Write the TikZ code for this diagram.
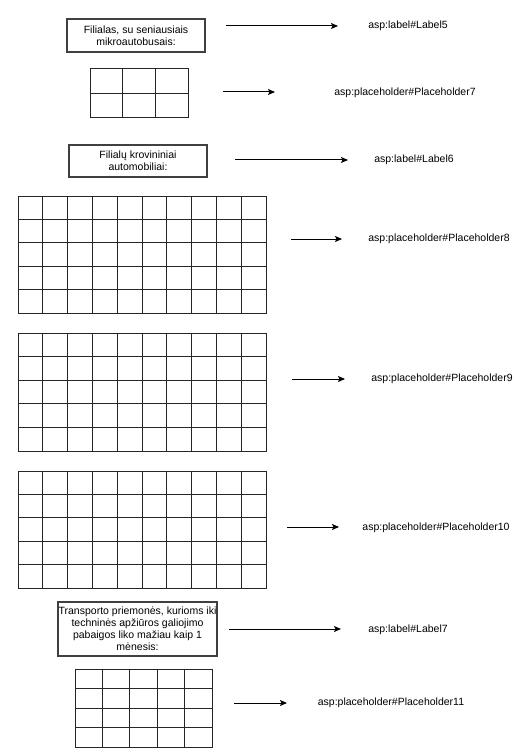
\documentclass[tikz,border=0pt]{standalone}
\usepackage{fontspec}
\setmainfont{Liberation Sans}
\usetikzlibrary{arrows.meta}
\newcommand\tblgrid[6]{%
  \draw[gridline] (#1,#2) rectangle (#3,#4);
  \pgfmathsetmacro\cw{(#3-#1)/#5}
  \pgfmathsetmacro\rh{(#4-#2)/#6}
  \pgfmathtruncatemacro\nc{#5-1}
  \pgfmathtruncatemacro\nr{#6-1}
  \foreach \i in {1,...,\nc} {\draw[gridline] ({#1+\i*\cw},#2) -- ({#1+\i*\cw},#4);}
  \foreach \j in {1,...,\nr} {\draw[gridline] (#1,{#2+\j*\rh}) -- (#3,{#2+\j*\rh});}
}
\tikzset{
  txt/.style={font=\fontsize{10.5}{12}\selectfont, inner sep=0pt, align=center},
  titlebox/.style={draw=black!75, line width=1.2pt, font=\fontsize{10.5}{12}\selectfont, align=center, inner sep=0pt},
  gridline/.style={draw=black!85, line width=1pt},
  conn/.style={line width=1pt, -{Stealth[length=7pt,width=6pt,inset=1.5pt]}},
}
\begin{document}
\begin{tikzpicture}[x=1pt,y=-1pt]
\useasboundingbox (0,0) rectangle (529,754);
% title boxes
\node[titlebox, minimum width=138pt, minimum height=33pt] (b1) at (136,35.5) {Filialas, su seniausiais\\mikroautobusais:};
\node[titlebox, minimum width=138pt, minimum height=32pt] (b2) at (138,161) {Filialų krovininiai\\automobiliai:};
\node[titlebox, minimum width=159pt, minimum height=54pt] (b3) at (137.5,629) {Transporto priemonės, kurioms iki\\techninės apžiūros galiojimo\\pabaigos liko mažiau kaip 1\\mėnesis:};
% grids
\tblgrid{90}{69}{188}{118}{3}{2}
\tblgrid{18}{196}{266}{313}{10}{5}
\tblgrid{18}{333}{266}{451}{10}{5}
\tblgrid{18}{471}{266}{588}{10}{5}
\tblgrid{75}{669}{212}{747}{5}{4}
% labels
\node[txt] (l1) at (408,26) {asp:label\#Label5};
\node[txt] (l2) at (405,93) {asp:placeholder\#Placeholder7};
\node[txt] (l3) at (414,160) {asp:label\#Label6};
\node[txt] (l4) at (439,239) {asp:placeholder\#Placeholder8};
\node[txt] (l5) at (442,379) {asp:placeholder\#Placeholder9};
\node[txt] (l6) at (436,528) {asp:placeholder\#Placeholder10};
\node[txt] (l7) at (408,630) {asp:label\#Label7};
\node[txt] (l8) at (391,703) {asp:placeholder\#Placeholder11};
% arrow ends
\coordinate (s1) at (226,26);  \coordinate (e1) at (338,26);
\coordinate (s2) at (223,92);  \coordinate (e2) at (275,92);
\coordinate (s3) at (235,160); \coordinate (e3) at (348,160);
\coordinate (s4) at (291,239); \coordinate (e4) at (342,239);
\coordinate (s5) at (292,379); \coordinate (e5) at (345,379);
\coordinate (s6) at (287,527); \coordinate (e6) at (339,527);
\coordinate (s7) at (229,629); \coordinate (e7) at (341,629);
\coordinate (s8) at (234,703); \coordinate (e8) at (287,703);
\foreach \k in {1,...,8} {\draw[conn] (s\k) -- (e\k);}
\end{tikzpicture}
\end{document}
